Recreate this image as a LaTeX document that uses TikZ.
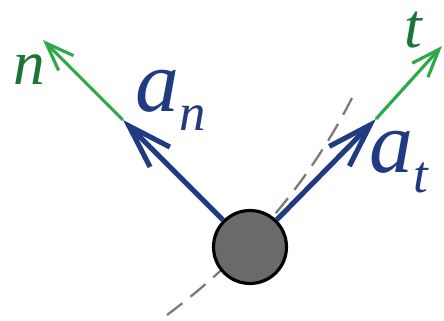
\documentclass[tikz,border=0pt]{standalone}
\usepackage{fontspec}
\setmainfont{Liberation Serif}
\usepackage{tikz}
\usetikzlibrary{arrows.meta}
\definecolor{accnavy}{HTML}{213B82}
\definecolor{dirgreen}{HTML}{2EA84A}
\definecolor{labgreen}{HTML}{1C7436}
\definecolor{path}{HTML}{7A7A7A}
\definecolor{body}{HTML}{6A6A6A}
\newcommand{\subsc}[1]{\raisebox{-0.22em}{\fontsize{30}{30}\selectfont #1}}

\begin{document}
\begin{tikzpicture}[x=0.02cm,y=-0.02cm, acc/.style={draw=accnavy,line width=2.9pt,-{Straight Barb[length=25pt,width=16pt,line width=2.9pt]}}, unit/.style={draw=dirgreen,line width=1.8pt,-{Straight Barb[length=16pt,width=12pt,line width=1.8pt]}}, particle/.style={circle,draw=black,line width=1.8pt,fill=body,minimum size=1.46cm,inner sep=0pt}, big/.style={font=\fontsize{50}{50}\selectfont\itshape,text=accnavy,inner sep=0pt}, lab/.style={font=\fontsize{36}{36}\selectfont\itshape,text=labgreen,inner sep=0pt}]
  \useasboundingbox (0,0) rectangle (444,321);
  \draw[path,line width=1.3pt,dash pattern=on 11pt off 6pt] (167,315) .. controls (230,268) and (300,200) .. (352,98);
  \node[particle] (p) at (250,247) {};
  \coordinate (an) at (123,120);
  \coordinate (at) at (376,119);
  \coordinate (nend) at (43,40);
  \coordinate (tend) at (442,46);
  \draw[acc] (p) -- (an);
  \draw[acc] (p) -- (at);
  \draw[unit] (an) -- (nend);
  \draw[unit] (at) -- (tend);
  \node[big] (anlab) at (171,100) {a\subsc{n}};
  \node[big] (atlab) at (399,162) {a\subsc{t}};
  \node[lab] (nlab) at (29,70) {n};
  \node[lab] (tlab) at (413,30) {t};
\end{tikzpicture}
\end{document}
